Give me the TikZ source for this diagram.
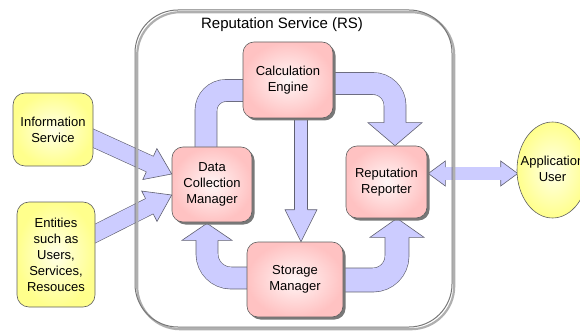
\documentclass[tikz,border=0pt]{standalone}
\usepackage{fontspec}
\setmainfont{Liberation Sans}
\usetikzlibrary{calc,shadows,shapes.geometric}

\definecolor{lav}{RGB}{204,204,255}
\definecolor{lavedge}{RGB}{96,96,112}
\definecolor{pinkin}{RGB}{255,246,246}
\definecolor{pinkout}{RGB}{255,194,194}
\definecolor{yelin}{RGB}{255,255,232}
\definecolor{yelout}{RGB}{255,255,140}
\definecolor{boxedge}{RGB}{96,96,96}
\definecolor{shadowgray}{RGB}{120,120,120}
\definecolor{frame}{RGB}{120,120,120}
\definecolor{frameshadow}{RGB}{175,175,175}

\pgfdeclarelayer{under}
\pgfsetlayers{under,main}

\tikzset{
  arrowline/.style={draw=lavedge, line width=0.6pt, line join=miter},
  shaft/.style={draw=lavedge, line width=0.6pt, double=lav, double distance=#1},
  boxtext/.style={align=center, font=\fontsize{13}{16}\selectfont},
  pinkbox/.style={boxtext, rounded corners=11pt, draw=boxedge, line width=0.6pt,
    inner color=pinkin, outer color=pinkout,
    drop shadow={shadow xshift=2.5pt, shadow yshift=-2.5pt, fill=shadowgray, opacity=1}},
  yellowbox/.style={boxtext, rounded corners=12pt, draw=boxedge, line width=0.6pt,
    inner color=yelin, outer color=yelout},
}

% block arrow head: base centre, tip, head half width, shaft half width
\newcommand\blockhead[4]{%
  \fill[lav] ($(#1)!#3!90:(#2)$) -- (#2) -- ($(#1)!#3!-90:(#2)$) -- cycle;
  \draw[arrowline] ($(#1)!#4!90:(#2)$) -- ($(#1)!#3!90:(#2)$) -- (#2)
    -- ($(#1)!#3!-90:(#2)$) -- ($(#1)!#4!-90:(#2)$);
}

\begin{document}
\begin{tikzpicture}[x=1pt, y=-1pt]
\useasboundingbox (0,0) rectangle (580,331);

% outer service frame (drawn later, over the arrows)
\coordinate (rsnw) at (135,10);
\coordinate (rsse) at (452,327);
\node[font=\fontsize{15}{18}\selectfont, anchor=base] (rstitle) at (282,29) {Reputation Service (RS)};

% components
\node[pinkbox, minimum width=90pt, minimum height=76pt] (ce) at (288,80) {Calculation\\Engine};
\node[pinkbox, minimum width=80pt, minimum height=75pt] (dcm) at (212,184.5) {Data\\Collection\\Manager};
\node[pinkbox, minimum width=81pt, minimum height=72pt] (rr) at (386.5,182) {Reputation\\Reporter};
\node[pinkbox, minimum width=96pt, minimum height=75pt] (sm) at (295,279.5) {Storage\\Manager};

% external parties
\node[yellowbox, minimum width=80pt, minimum height=73pt] (is) at (53,129.5) {Information\\Service};
\node[yellowbox, minimum width=78pt, minimum height=105pt] (ent) at (56,254.5) {Entities\\such as\\Users,\\Services,\\Resouces};
\node[ellipse, draw=boxedge, line width=0.6pt, inner color=yelin, outer color=yelout,
      minimum width=71pt, minimum height=96pt, inner sep=0pt, boxtext] (au) at (552.5,170)
      {\makebox[0pt]{\begin{tabular}{@{}c@{}}Application\\User\end{tabular}}};

\begin{pgfonlayer}{under}
  % Information Service -> Data Collection Manager
  \coordinate (a1s) at ($(is.east)+(-4,7)$);
  \coordinate (a1t) at ($(dcm.west)+(0,-10.5)$);
  \coordinate (a1b) at ($(a1t)!24pt!(a1s)$);
  \draw[shaft=16.4pt] (a1s) -- ($(a1b)!1pt!(a1t)$);
  \blockhead{a1b}{a1t}{17pt}{8.5pt}

  % Entities -> Data Collection Manager
  \coordinate (a2s) at ($(ent.east)+(-4,-19)$);
  \coordinate (a2t) at ($(dcm.west)+(0,10.5)$);
  \coordinate (a2b) at ($(a2t)!25pt!(a2s)$);
  \draw[shaft=16.4pt] (a2s) -- ($(a2b)!1pt!(a2t)$);
  \blockhead{a2b}{a2t}{17pt}{8.5pt}

  % Calculation Engine -- Data Collection Manager
  \coordinate (a3s) at ($(ce.west)+(4,10.5)$);
  \coordinate (a3e) at ($(dcm.north)+(-6,4)$);
  \draw[shaft=21.4pt, rounded corners=20pt] (a3s) -| (a3e);

  % Calculation Engine -> Reputation Reporter
  \coordinate (a4s) at ($(ce.east)+(-4,3.5)$);
  \coordinate (a4t) at ($(rr.north)+(8.5,0)$);
  \coordinate (a4b) at ($(a4t)+(0,-23)$);
  \draw[shaft=21.4pt, rounded corners=22pt] (a4s) -| ($(a4b)!1pt!(a4t)$);
  \blockhead{a4b}{a4t}{27pt}{11pt}

  % Calculation Engine -> Storage Manager
  \coordinate (a5s) at ($(ce.south)+(13,-4)$);
  \coordinate (a5t) at ($(sm.north)+(6,0)$);
  \coordinate (a5b) at ($(a5t)+(0,-32)$);
  \draw[shaft=12.4pt] (a5s) -- ($(a5b)!1pt!(a5t)$);
  \blockhead{a5b}{a5t}{16pt}{6.5pt}

  % Storage Manager -> Data Collection Manager
  \coordinate (a6s) at ($(sm.west)+(4,-1.5)$);
  \coordinate (a6t) at ($(dcm.south)+(-5,1)$);
  \coordinate (a6b) at ($(a6t)+(0,17)$);
  \draw[shaft=21.4pt, rounded corners=24pt] (a6s) -| ($(a6b)!1pt!(a6t)$);
  \blockhead{a6b}{a6t}{25pt}{11pt}

  % Storage Manager -> Reputation Reporter
  \coordinate (a7s) at ($(sm.east)+(-4,0.5)$);
  \coordinate (a7t) at ($(rr.south)+(10.5,0)$);
  \coordinate (a7b) at ($(a7t)+(0,19)$);
  \draw[shaft=23.4pt, rounded corners=24pt] (a7s) -| ($(a7b)!1pt!(a7t)$);
  \blockhead{a7b}{a7t}{27pt}{12pt}

  % Reputation Reporter <-> Application User
  \coordinate (a8l) at ($(rr.east)+(1,-8.5)$);
  \coordinate (a8r) at ($(au.west)+(1,3.5)$);
  \coordinate (a8lb) at ($(a8l)!17pt!(a8r)$);
  \coordinate (a8rb) at ($(a8r)!17pt!(a8l)$);
  \draw[shaft=12.4pt] ($(a8lb)!1pt!(a8l)$) -- ($(a8rb)!1pt!(a8r)$);
  \blockhead{a8lb}{a8l}{12.5pt}{6.5pt}
  \blockhead{a8rb}{a8r}{12.5pt}{6.5pt}

  % service frame with its shadow, over the arrows
  \draw[frameshadow, line width=2.2pt, rounded corners=43pt]
    ($(rsnw)+(2.2,2.2)$) rectangle ($(rsse)+(2.2,2.2)$);
  \draw[frame, line width=1pt, rounded corners=43pt] (rsnw) rectangle (rsse);
\end{pgfonlayer}
\end{tikzpicture}
\end{document}
